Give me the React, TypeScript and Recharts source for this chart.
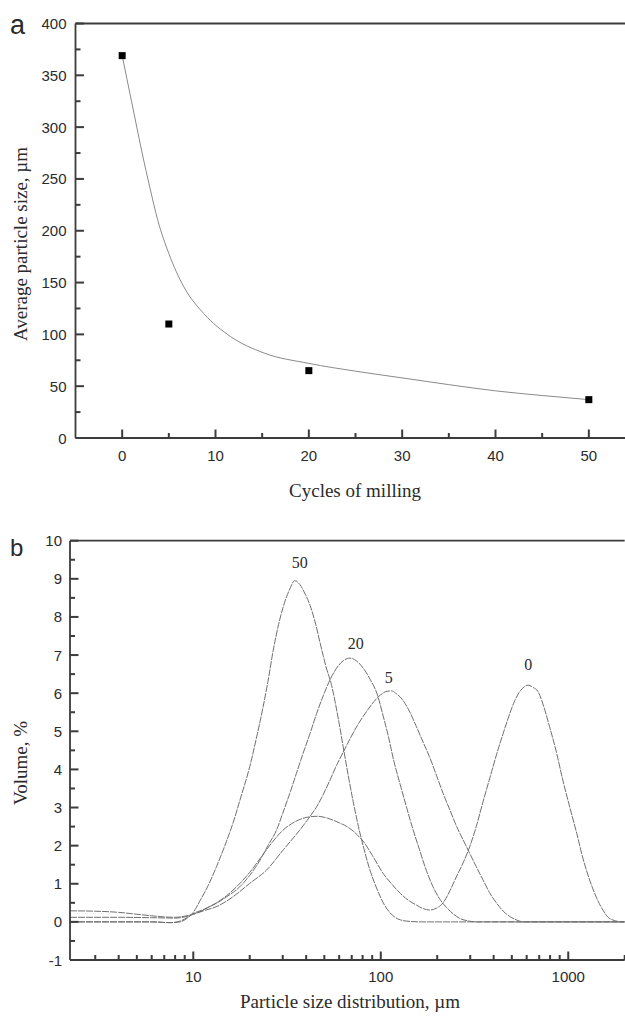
import { ComposedChart, Line, ReferenceDot, ReferenceLine, Scatter, XAxis, YAxis } from "recharts";

const SANS = '"Liberation Sans", Arial, sans-serif';
const SERIF = '"Liberation Serif", "Times New Roman", serif';
const AXIS = "#3c3c3c";
const INK = "#2b2b2b";

// (a) average particle size against number of milling cycles
const millingCycles = [0, 5, 20, 50];
const averageSize = [369, 110, 65, 37];

const fitCycles = [0, 0.5, 1, 1.5, 2.14, 2.96, 3.82, 5, 6.6, 8.75, 11.6, 15.2, 20, 25, 30, 35, 40, 45, 50];
const fitSize = [369, 347, 325, 303, 275, 242, 210, 178, 146, 120, 98, 82, 72, 64.5, 58, 51.5, 45.5, 41, 37];

const cycleTicks = [0, 5, 10, 15, 20, 25, 30, 35, 40, 45, 50, 55];
const cycleLabels = [0, 10, 20, 30, 40, 50];
const sizeTicks = [0, 25, 50, 75, 100, 125, 150, 175, 200, 225, 250, 275, 300, 325, 350, 375, 400];
const sizeLabels = [0, 50, 100, 150, 200, 250, 300, 350, 400];

// (b) volume distributions, one per milling cycle count
const size0 = [2.2, 3, 4, 5, 6, 7, 8, 9, 10, 11, 12, 13.3, 15, 17, 20, 23, 26, 30, 35, 40, 46, 52, 60, 68.5, 75, 81, 90, 103, 115, 127, 140, 155, 168, 182, 198, 215, 234, 254, 275, 298, 323, 351, 383, 415, 450, 488, 518, 551, 580, 610, 650, 690, 740, 795, 865, 935, 1020, 1110, 1200, 1300, 1410, 1530, 1630, 1730, 1850, 2000];
const volume0 = [0.29, 0.28, 0.25, 0.2, 0.16, 0.13, 0.12, 0.15, 0.2, 0.28, 0.38, 0.5, 0.68, 0.92, 1.3, 1.7, 2.05, 2.4, 2.63, 2.74, 2.77, 2.72, 2.6, 2.45, 2.28, 2.1, 1.75, 1.27, 0.98, 0.75, 0.57, 0.44, 0.35, 0.31, 0.36, 0.5, 0.82, 1.2, 1.55, 1.97, 2.5, 3.15, 3.8, 4.4, 4.95, 5.47, 5.8, 6.04, 6.16, 6.21, 6.15, 6.04, 5.65, 5.12, 4.45, 3.72, 3.0, 2.32, 1.65, 1.1, 0.65, 0.31, 0.12, 0.05, 0.01, 0];

const size5 = [2.2, 4, 6, 8, 9, 10, 11.5, 13.3, 16.3, 20, 24.6, 30.2, 37, 41, 45.5, 53.6, 58, 63, 68.5, 76, 84, 92, 100, 108, 114, 120, 131, 143, 155, 168, 182, 198, 215, 234, 254, 275, 298, 323, 351, 380, 415, 450, 488, 530, 575, 2000];
const volume5 = [0.12, 0.12, 0.11, 0.1, 0.13, 0.2, 0.3, 0.4, 0.66, 1.01, 1.36, 1.89, 2.41, 2.7, 3.02, 3.72, 4.1, 4.45, 4.8, 5.2, 5.52, 5.78, 5.96, 6.05, 6.06, 6.0, 5.82, 5.5, 5.12, 4.72, 4.33, 3.85, 3.37, 2.93, 2.5, 2.15, 1.8, 1.45, 1.1, 0.77, 0.49, 0.28, 0.14, 0.05, 0, 0];

const size20 = [2.2, 4, 6, 7.5, 8.5, 9.3, 10, 11, 12, 13.3, 15.5, 17.7, 20, 22.7, 25, 27.8, 30, 32.7, 35.5, 38.5, 42, 45.5, 49.5, 53.6, 58, 63, 68.4, 74, 80.8, 88, 95.3, 103, 110, 117, 127, 137, 148, 161, 175, 190, 205, 224, 245, 264, 290, 325, 2000];
const volume20 = [0, 0, 0, -0.02, 0.02, 0.12, 0.22, 0.3, 0.38, 0.49, 0.7, 0.92, 1.22, 1.62, 2.0, 2.41, 2.85, 3.37, 3.9, 4.42, 4.95, 5.47, 5.95, 6.35, 6.65, 6.85, 6.92, 6.85, 6.65, 6.35, 6.0, 5.4, 4.85, 4.25, 3.6, 3.02, 2.45, 1.89, 1.35, 0.92, 0.62, 0.38, 0.2, 0.09, 0.03, 0, 0];

const size50 = [2.2, 4, 6, 7.5, 8.5, 9.3, 10, 10.9, 12, 13.3, 15, 16.3, 18, 20, 22, 23.6, 25, 26.7, 28.5, 30.2, 32.5, 34.8, 37, 39.5, 42, 45, 47.3, 51, 54.7, 59, 63, 67, 71.3, 76, 81.5, 87, 93, 99, 105, 112, 120, 130, 145, 165, 2000];
const volume50 = [0, 0, 0, -0.02, 0, 0.1, 0.25, 0.57, 0.95, 1.45, 2.1, 2.6, 3.3, 4.07, 4.95, 5.65, 6.3, 7.13, 7.8, 8.27, 8.7, 8.95, 8.85, 8.6, 8.3, 7.8, 7.35, 6.7, 6.2, 5.4, 4.6, 3.85, 3.15, 2.5, 1.9, 1.4, 1.0, 0.68, 0.43, 0.24, 0.11, 0.04, 0.01, 0, 0];

const peakNames = ["50", "20", "5", "0"];
const peakSize = [37, 73.5, 110.4, 611];
const peakVolume = [9.43, 7.31, 6.41, 6.74];

const diameterTicks = [3, 4, 5, 6, 7, 8, 9, 10, 20, 30, 40, 50, 60, 70, 80, 90, 100, 200, 300, 400, 500, 600, 700, 800, 900, 1000, 2000];
const diameterLabels = [10, 100, 1000];
const volumeTicks = [-1, -0.5, 0, 0.5, 1, 1.5, 2, 2.5, 3, 3.5, 4, 4.5, 5, 5.5, 6, 6.5, 7, 7.5, 8, 8.5, 9, 9.5, 10];
const volumeLabels = [-1, 0, 1, 2, 3, 4, 5, 6, 7, 8, 9, 10];

const zip = (xs: number[], ys: number[], xKey: string, yKey: string) =>
  xs.map((x, i) => ({ [xKey]: x, [yKey]: ys[i] }));

const measuredRows = zip(millingCycles, averageSize, "cycles", "size");
const fitRows = zip(fitCycles, fitSize, "cycles", "size");
const curves = [
  zip(size0, volume0, "diameter", "volume"),
  zip(size5, volume5, "diameter", "volume"),
  zip(size20, volume20, "diameter", "volume"),
  zip(size50, volume50, "diameter", "volume"),
];

const MAJOR_LEN = 8.5;
const MINOR_LEN = 5;

// ticks point into the plot; minor ticks get no label
function leftTick(labels: number[], gap: number) {
  return (props: any) => {
    const x = Number(props.x);
    const y = Number(props.y);
    const value = Number(props.payload.value);
    const major = labels.includes(value);
    const ax = x + gap;
    return (
      <g>
        <rect x={ax} y={y - 1} width={major ? MAJOR_LEN : MINOR_LEN} height={2} fill={AXIS} />
        {major && (
          <text x={x} y={y} textAnchor="end" dominantBaseline="central" fontFamily={SANS} fontSize={15} fill={INK}>
            {value}
          </text>
        )}
      </g>
    );
  };
}

function bottomTick(labels: number[], gap: number, dy: number) {
  return (props: any) => {
    const x = Number(props.x);
    const y = Number(props.y);
    const value = Number(props.payload.value);
    const major = labels.includes(value);
    const ay = y - gap;
    const len = major ? MAJOR_LEN : MINOR_LEN;
    return (
      <g>
        <rect x={x - 1} y={ay - len} width={2} height={len} fill={AXIS} />
        {major && (
          <text x={x} y={ay + dy} textAnchor="middle" dominantBaseline="central" fontFamily={SANS} fontSize={15} fill={INK}>
            {value}
          </text>
        )}
      </g>
    );
  };
}

const axisLine = { stroke: AXIS, strokeWidth: 1.8 };

function MillingChart() {
  return (
    <ComposedChart width={650} height={510} margin={{ top: 23.5, right: 14.5, bottom: 0, left: 15.5 }}>
      <XAxis
        dataKey="cycles"
        type="number"
        domain={[-5, 55]}
        ticks={cycleTicks}
        interval={0}
        allowDataOverflow
        height={72}
        tickSize={0}
        tickMargin={4}
        tickLine={false}
        axisLine={axisLine}
        tick={bottomTick(cycleLabels, 4, 17)}
      />
      <YAxis
        dataKey="size"
        type="number"
        domain={[0, 400]}
        ticks={sizeTicks}
        interval={0}
        width={60}
        tickSize={0}
        tickMargin={9}
        tickLine={false}
        axisLine={axisLine}
        tick={leftTick(sizeLabels, 9)}
      />
      <ReferenceLine y={400} stroke={AXIS} strokeWidth={1.8} />
      <Line
        data={fitRows}
        dataKey="size"
        type="monotone"
        stroke="#8a8a8a"
        strokeWidth={1}
        dot={false}
        activeDot={false}
        isAnimationActive={false}
      />
      <Scatter
        data={measuredRows}
        dataKey="size"
        isAnimationActive={false}
        shape={(p: any) => <rect x={p.cx - 3.5} y={p.cy - 3.5} width={7} height={7} fill="#000" />}
      />
    </ComposedChart>
  );
}

function DistributionChart() {
  return (
    <ComposedChart width={640} height={518} margin={{ top: 40.7, right: 15.3, bottom: 0, left: 10 }}>
      <XAxis
        dataKey="diameter"
        type="number"
        scale="log"
        domain={[2.2, 2000]}
        ticks={diameterTicks}
        interval={0}
        allowDataOverflow
        height={58}
        tickSize={0}
        tickMargin={4}
        tickLine={false}
        axisLine={axisLine}
        tick={bottomTick(diameterLabels, 4, 16)}
      />
      <YAxis
        dataKey="volume"
        type="number"
        domain={[-1, 10]}
        ticks={volumeTicks}
        interval={0}
        width={60}
        tickSize={0}
        tickMargin={8}
        tickLine={false}
        axisLine={axisLine}
        tick={leftTick(volumeLabels, 8)}
      />
      <ReferenceLine y={10} stroke={AXIS} strokeWidth={1.8} />
      {curves.map((rows, i) => (
        <Line
          key={i}
          data={rows}
          dataKey="volume"
          type="monotone"
          stroke="#707070"
          strokeWidth={1}
          strokeDasharray="7 1"
          dot={false}
          activeDot={false}
          isAnimationActive={false}
        />
      ))}
      {peakNames.map((name, i) => (
        <ReferenceDot
          key={name}
          x={peakSize[i]}
          y={peakVolume[i]}
          r={0}
          shape={(p: any) => (
            <text x={p.cx} y={p.cy} textAnchor="middle" dominantBaseline="central" fontFamily={SERIF} fontSize={16} fill={INK}>
              {name}
            </text>
          )}
        />
      ))}
    </ComposedChart>
  );
}

export default function App() {
  return (
    <div style={{ position: "absolute", left: 0, top: 0, width: 625, height: 1018, overflow: "hidden", background: "#fff" }}>
      <div style={{ position: "absolute", left: 0, top: 0 }}>
        <MillingChart />
      </div>
      <div style={{ position: "absolute", left: 0, top: 500 }}>
        <DistributionChart />
      </div>
      <svg width={625} height={1018} style={{ position: "absolute", left: 0, top: 0, pointerEvents: "none" }}>
        <text x={10} y={34} fontFamily={SANS} fontSize={27} fill={INK}>a</text>
        <text x={10} y={556} fontFamily={SANS} fontSize={24} fill={INK}>b</text>
        <text x={355} y={490} textAnchor="middle" dominantBaseline="central" fontFamily={SERIF} fontSize={19} fill={INK}>
          Cycles of milling
        </text>
        <text
          x={20}
          y={244}
          transform="rotate(-90 20 244)"
          textAnchor="middle"
          dominantBaseline="central"
          fontFamily={SERIF}
          fontSize={19}
          fill={INK}
        >
          Average particle size, µm
        </text>
        <text x={350} y={1001} textAnchor="middle" dominantBaseline="central" fontFamily={SERIF} fontSize={19} fill={INK}>
          Particle size distribution, µm
        </text>
        <text
          x={20}
          y={763}
          transform="rotate(-90 20 763)"
          textAnchor="middle"
          dominantBaseline="central"
          fontFamily={SERIF}
          fontSize={19}
          fill={INK}
        >
          Volume, %
        </text>
      </svg>
    </div>
  );
}
